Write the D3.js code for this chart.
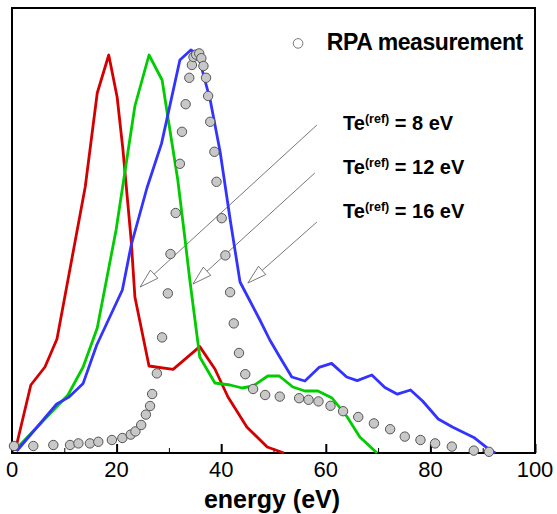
<!DOCTYPE html>
<html>
<head>
<meta charset="utf-8">
<script src="https://cdn.jsdelivr.net/npm/d3@7/dist/d3.min.js"></script>
<style>
  html, body { margin: 0; padding: 0; background: #fff; }
  svg { display: block; font-family: "Liberation Sans", Arial, sans-serif; }
</style>
</head>
<body>
<svg id="chart" width="557" height="514"></svg>
<script>
// ---- data (energy in eV, intensity normalised, peak ~ 1) ----
const xTicksMajor = [0, 20, 40, 60, 80, 100];
const xTicksMinor = [10, 30, 50, 70, 90];
const xTickLabels = ["0", "20", "40", "60", "80", "100"];

const redX = [0.6, 3.6, 6.3, 8.6, 14.0, 16.3, 18.5, 20.1, 21.2, 22.8, 23.5, 26.2, 30.8, 35.9, 38.8, 41.3, 44.9, 48.8, 52.0];
const redY = [0.005, 0.17, 0.215, 0.285, 0.665, 0.90, 0.995, 0.89, 0.76, 0.53, 0.39, 0.2175, 0.209, 0.266, 0.21, 0.14, 0.065, 0.015, 0.0];

const greenX = [0.6, 10.7, 13.6, 16.3, 19.9, 23.5, 26.2, 28.7, 29.8, 31.7, 33.1, 34.0, 35.9, 38.8, 41.7, 44.0, 46.1, 48.9, 51.1, 53.7, 56.0, 58.5, 61.2, 64.1, 66.5, 69.8];
const greenY = [0.0075, 0.145, 0.215, 0.3125, 0.5575, 0.8675, 0.995, 0.9325, 0.84, 0.6825, 0.5325, 0.4325, 0.24, 0.175, 0.17, 0.1625, 0.1675, 0.1925, 0.1925, 0.165, 0.155, 0.155, 0.1375, 0.09, 0.04, 0.0];

const blueX = [0.9, 8.55, 10.8, 13.6, 16.2, 21.1, 22.8, 25.8, 28.6, 32.1, 34.2, 35.6, 37.9, 39.8, 41.7, 43.6, 47.4, 49.3, 51.2, 53.5, 56.0, 58.7, 61.1, 64.0, 66.0, 68.8, 71.3, 73.7, 76.2, 78.5, 81.5, 84.2, 88.3, 90.9, 92.4];
const blueY = [0.005, 0.1225, 0.139, 0.174, 0.27, 0.4075, 0.52, 0.6625, 0.774, 0.9825, 1.0075, 0.995, 0.8825, 0.7525, 0.585, 0.4275, 0.3325, 0.2825, 0.24, 0.19, 0.18, 0.214, 0.224, 0.19, 0.181, 0.195, 0.164, 0.147, 0.1575, 0.13, 0.085, 0.065, 0.039, 0.012, 0.0];

const rpaX = [0.38, 4.07, 7.9, 11.1, 12.7, 14.9, 16.5, 19.1, 21.1, 22.7, 23.6, 24.7, 25.6, 26.4, 26.8, 27.7, 28.7, 29.8, 30.3, 31.3, 32.1, 32.5, 33.2, 33.9, 34.4, 34.7, 35.2, 35.8, 36.2, 36.6, 37.1, 37.5, 37.9, 38.7, 39.1, 40.1, 40.8, 41.7, 42.4, 43.4, 44.6, 46.1, 48.4, 51.2, 54.9, 56.7, 58.6, 60.9, 63.3, 66.2, 69.2, 72.3, 75.1, 78.1, 80.9, 84.1, 88.3, 91.2];
const rpaY = [0.0175, 0.0175, 0.02, 0.02, 0.024, 0.024, 0.028, 0.0325, 0.0375, 0.046, 0.054, 0.07, 0.096, 0.1175, 0.1475, 0.199, 0.289, 0.399, 0.4975, 0.60, 0.723, 0.803, 0.872, 0.938, 0.97, 0.99, 0.996, 0.999, 0.987, 0.9675, 0.938, 0.8925, 0.828, 0.753, 0.678, 0.587, 0.494, 0.402, 0.324, 0.25, 0.197, 0.16, 0.145, 0.141, 0.137, 0.133, 0.129, 0.118, 0.1045, 0.09, 0.074, 0.0595, 0.041, 0.0325, 0.024, 0.016, 0.006, 0.003];

const teLabels = ["8 eV", "12 eV", "16 eV"];
const teLabelY = [0.8075, 0.6975, 0.5875];
const teLabelX = 63.3;
// annotation arrows: start (near label) -> tip (on curve)
const arrowStartX = [58.3, 57.9, 58.3];
const arrowStartY = [0.82, 0.70, 0.5775];
const arrowTipX = [24.5, 34.6, 45.1];
const arrowTipY = [0.415, 0.4225, 0.425];

const legendLabel = "RPA measurement";
const xAxisTitle = "energy (eV)";

// ---- layout ----
const svg = d3.select("#chart");
const mLeft = 12, mRight = 535, mTop = 8, mBottom = 453;
const x = d3.scaleLinear().domain([0, 100]).range([mLeft, mRight]);
const y = d3.scaleLinear().domain([0, 1.1125]).range([mBottom, mTop]);

// frame
svg.append("rect")
  .attr("x", mLeft).attr("y", mTop)
  .attr("width", mRight - mLeft).attr("height", mBottom - mTop)
  .attr("fill", "none").attr("stroke", "#000").attr("stroke-width", 2);

// x axis: inward ticks
const gx = svg.append("g").attr("transform", `translate(0,${mBottom})`);
gx.call(d3.axisTop(x).tickValues(xTicksMajor).tickSize(9).tickFormat(""))
  .call(g => g.select(".domain").remove())
  .call(g => g.selectAll("line").attr("stroke", "#000").attr("stroke-width", 2));
const gxm = svg.append("g").attr("transform", `translate(0,${mBottom})`);
gxm.call(d3.axisTop(x).tickValues(xTicksMinor).tickSize(5).tickFormat(""))
  .call(g => g.select(".domain").remove())
  .call(g => g.selectAll("line").attr("stroke", "#000").attr("stroke-width", 1));

svg.append("g").selectAll("text").data(xTicksMajor).join("text")
  .attr("x", d => x(d)).attr("y", 477)
  .attr("text-anchor", "middle")
  .attr("font-size", 22).attr("fill", "#000")
  .text((d, i) => xTickLabels[i]);

svg.append("text")
  .attr("x", 272).attr("y", 508)
  .attr("text-anchor", "middle")
  .attr("font-size", 25).attr("font-weight", "bold")
  .text(xAxisTitle);

// arrows
const ag = svg.append("g");
arrowStartX.forEach((sx, i) => {
  const x0 = x(sx), y0 = y(arrowStartY[i]);
  const x1 = x(arrowTipX[i]), y1 = y(arrowTipY[i]);
  const dx = x0 - x1, dy = y0 - y1, L = Math.hypot(dx, dy);
  const ux = dx / L, uy = dy / L;
  const hl = 19, hw = 5.5;
  const bx = x1 + ux * hl, by = y1 + uy * hl;
  ag.append("line").attr("x1", x0).attr("y1", y0).attr("x2", bx).attr("y2", by)
    .attr("stroke", "#555").attr("stroke-width", 0.8);
  ag.append("path")
    .attr("d", `M${x1},${y1}L${bx - uy * hw},${by + ux * hw}L${bx + uy * hw},${by - ux * hw}Z`)
    .attr("fill", "#fff").attr("stroke", "#555").attr("stroke-width", 0.8);
});

// lines
const line = d3.line().x(d => x(d[0])).y(d => y(d[1]));
const series = [
  { xs: redX, ys: redY, color: "#d40000" },
  { xs: greenX, ys: greenY, color: "#00cc00" },
  { xs: blueX, ys: blueY, color: "#3333ff" }
];
series.forEach(s => {
  svg.append("path")
    .datum(s.xs.map((v, i) => [v, s.ys[i]]))
    .attr("d", line)
    .attr("fill", "none").attr("stroke", s.color)
    .attr("stroke-width", 2.8).attr("stroke-linejoin", "round");
});

// RPA points
svg.append("g").selectAll("circle").data(rpaX.map((v, i) => [v, rpaY[i]])).join("circle")
  .attr("cx", d => x(d[0])).attr("cy", d => y(d[1])).attr("r", 4.7)
  .attr("fill", "#c8c8c8").attr("stroke", "#555").attr("stroke-width", 1);

// legend
svg.append("circle")
  .attr("cx", x(54.7)).attr("cy", y(1.024)).attr("r", 4.8)
  .attr("fill", "#fff").attr("stroke", "#777").attr("stroke-width", 1);
svg.append("text")
  .attr("x", x(60.2)).attr("y", y(1.0075))
  .attr("font-size", 23).attr("font-weight", "bold").attr("letter-spacing", -0.4)
  .text(legendLabel);

// Te labels
teLabels.forEach((lab, i) => {
  const t = svg.append("text")
    .attr("x", x(teLabelX)).attr("y", y(teLabelY[i]))
    .attr("font-size", 20).attr("font-weight", "bold");
  t.append("tspan").text("Te");
  t.append("tspan").attr("font-size", 12.5).attr("dy", -7).text("(ref)");
  t.append("tspan").attr("dy", 7).text(" = " + lab);
});
</script>
</body>
</html>
